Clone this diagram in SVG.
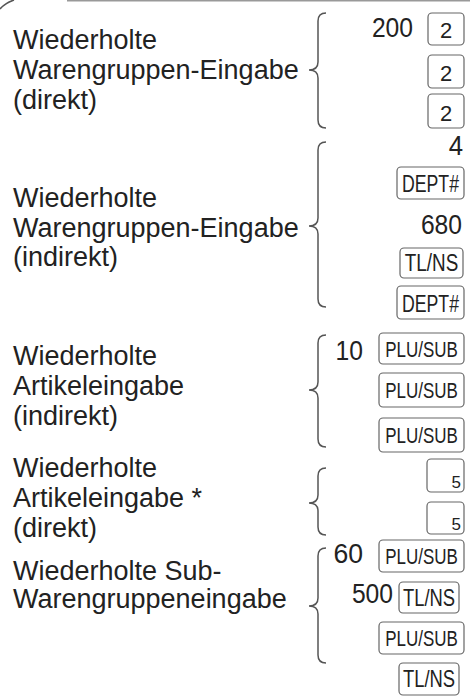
<svg xmlns="http://www.w3.org/2000/svg" width="470" height="700" viewBox="0 0 470 700">
<style>
.lbl{font-family:"Liberation Sans",Arial,sans-serif;font-size:27px;fill:#222}
.num{font-family:"Liberation Sans",Arial,sans-serif;font-size:28px;fill:#222;text-anchor:end}
.key{fill:#fff;stroke:#666;stroke-width:1.2}
.kt{font-family:"Liberation Sans",Arial,sans-serif;font-size:23px;fill:#222;text-anchor:middle}
.kp{font-family:"Liberation Sans",Arial,sans-serif;font-size:22px;fill:#222;text-anchor:middle}
.k2{font-family:"Liberation Sans",Arial,sans-serif;font-size:22px;fill:#222;text-anchor:middle}
.k5{font-family:"Liberation Sans",Arial,sans-serif;font-size:17px;fill:#222;text-anchor:end}
.brace{fill:none;stroke:#555;stroke-width:1.5}
</style>
<rect width="470" height="700" fill="#fff"/>
<line x1="67" y1="0.8" x2="470" y2="0.8" stroke="#999" stroke-width="1.5"/>
<path d="M0 9 Q5 3 14 0" fill="none" stroke="#555" stroke-width="1.5"/>

<g id="connectors">
<path class="brace" d="M326 13 Q318 13 318 21 L318 62 Q318 70 309 70 Q318 70 318 78 L318 120 Q318 128 326 128"/>
<path class="brace" d="M326 142 Q318 142 318 150 L318 218 Q318 226 309 226 Q318 226 318 234 L318 299 Q318 307 326 307"/>
<path class="brace" d="M326 335 Q318 335 318 343 L318 382 Q318 390 309 390 Q318 390 318 398 L318 439 Q318 447 326 447"/>
<path class="brace" d="M326 468 Q318 468 318 476 L318 495 Q318 503 309 503 Q318 503 318 511 L318 527 Q318 535 326 535"/>
<path class="brace" d="M326 548 Q318 548 318 556 L318 598 Q318 606 309 606 Q318 606 318 614 L318 655 Q318 663 326 663"/>
</g>

<g id="group1">
<text class="lbl" x="13" y="49">Wiederholte</text>
<text class="lbl" x="13" y="79">Warengruppen-Eingabe</text>
<text class="lbl" x="13" y="109">(direkt)</text>
<text class="num" transform="translate(413 37) scale(0.88 1)">200</text>
<rect class="key" x="428" y="13" width="36" height="32" rx="4"/>
<text class="k2" x="446" y="38">2</text>
<rect class="key" x="428" y="55" width="36" height="33" rx="4"/>
<text class="k2" x="446" y="81">2</text>
<rect class="key" x="428" y="94" width="36" height="34" rx="4"/>
<text class="k2" x="446" y="121">2</text>
</g>

<g id="group2">
<text class="lbl" x="13" y="207">Wiederholte</text>
<text class="lbl" x="13" y="237">Warengruppen-Eingabe</text>
<text class="lbl" x="13" y="266">(indirekt)</text>
<text class="num" transform="translate(463 155) scale(0.92 1)">4</text>
<rect class="key" x="397" y="167" width="67" height="32" rx="4"/>
<text class="kt" transform="translate(430.5 192) scale(0.77 1)">DEPT#</text>
<text class="num" transform="translate(462 234) scale(0.88 1)">680</text>
<rect class="key" x="400" y="248" width="63" height="30" rx="4"/>
<text class="kt" transform="translate(431.5 271) scale(0.82 1)">TL/NS</text>
<rect class="key" x="397" y="286" width="67" height="33" rx="4"/>
<text class="kt" transform="translate(430.5 312) scale(0.77 1)">DEPT#</text>
</g>

<g id="group3">
<text class="lbl" x="13" y="365">Wiederholte</text>
<text class="lbl" x="13" y="395">Artikeleingabe</text>
<text class="lbl" x="13" y="425">(indirekt)</text>
<text class="num" transform="translate(363 360) scale(0.88 1)">10</text>
<rect class="key" x="379" y="333" width="85" height="31" rx="4"/>
<text class="kp" transform="translate(421.5 357) scale(0.77 1)">PLU/SUB</text>
<rect class="key" x="379" y="373" width="85" height="34" rx="4"/>
<text class="kp" transform="translate(421.5 398) scale(0.77 1)">PLU/SUB</text>
<rect class="key" x="379" y="418" width="85" height="34" rx="4"/>
<text class="kp" transform="translate(421.5 443) scale(0.77 1)">PLU/SUB</text>
</g>

<g id="group4">
<text class="lbl" x="13" y="477">Wiederholte</text>
<text class="lbl" x="13" y="507">Artikeleingabe *</text>
<text class="lbl" x="13" y="537">(direkt)</text>
<rect class="key" x="427" y="459" width="37" height="33" rx="4"/>
<text class="k5" x="461" y="488">5</text>
<rect class="key" x="427" y="502" width="37" height="32" rx="4"/>
<text class="k5" x="461" y="530">5</text>
</g>

<g id="group5">
<text class="lbl" x="13" y="580">Wiederholte Sub-</text>
<text class="lbl" x="13" y="608">Warengruppeneingabe</text>
<text class="num" transform="translate(363 563) scale(0.95 1)">60</text>
<rect class="key" x="379" y="540" width="85" height="32" rx="4"/>
<text class="kp" transform="translate(421.5 564) scale(0.77 1)">PLU/SUB</text>
<text class="num" transform="translate(393 603) scale(0.88 1)">500</text>
<rect class="key" x="399" y="582" width="60" height="31" rx="4"/>
<text class="kt" transform="translate(429 606) scale(0.8 1)">TL/NS</text>
<rect class="key" x="379" y="622" width="85" height="32" rx="4"/>
<text class="kp" transform="translate(421.5 646) scale(0.77 1)">PLU/SUB</text>
<rect class="key" x="399" y="663" width="60" height="32" rx="4"/>
<text class="kt" transform="translate(429 687) scale(0.8 1)">TL/NS</text>
</g>
</svg>
